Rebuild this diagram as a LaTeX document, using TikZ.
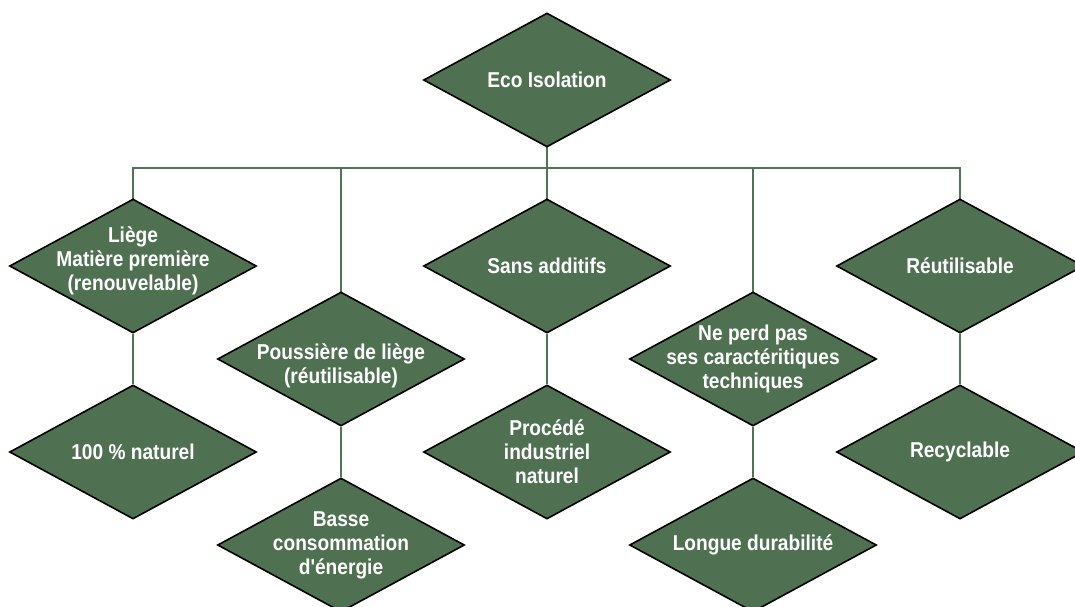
\documentclass[tikz,border=0pt]{standalone}
\usepackage{fontspec}
\setmainfont[FakeStretch=0.89,Ligatures=TeXOff]{Liberation Sans}
\usetikzlibrary{shapes.geometric}
\definecolor{leaf}{HTML}{4F7152}
\definecolor{stem}{HTML}{507555}
\begin{document}
\begin{tikzpicture}[x=1pt,y=-1pt,
  dia/.style={diamond,draw=black,line width=1.6pt,fill=leaf,
    minimum width=247pt,minimum height=134pt,inner sep=0pt},
  txt/.style={text=white,font=\fontsize{21.5}{24}\selectfont\bfseries,
    align=center,inner sep=0pt},
  conn/.style={draw=stem,line width=2pt}]
\useasboundingbox (0,0) rectangle (1075,606);
\clip (0,0) rectangle (1075,606);

% bus line that links the root to the five branches
\coordinate (bus) at (547,168);

% connectors (drawn first so that the diamonds sit on top)
\coordinate (rootS) at (547,147);
\coordinate (c1) at (133,199);
\coordinate (c2) at (341,292);
\coordinate (c3) at (547,199);
\coordinate (c4) at (753,292);
\coordinate (c5) at (960,199);
\draw[conn] (rootS) -- (c3);
\draw[conn] (c1) |- (bus) -| (c5);
\draw[conn] (c2) -- (c2 |- bus);
\draw[conn] (c4) -- (c4 |- bus);

% diamonds
\node[dia] (root)  at (547,80)  {};
\node[dia] (liege) at (133,266) {};
\node[dia] (pous)  at (341,359) {};
\node[dia] (sans)  at (547,266) {};
\node[dia] (perd)  at (753,359) {};
\node[dia] (reut)  at (960,266) {};
\node[dia] (nat)   at (133,452) {};
\node[dia] (basse) at (341,545) {};
\node[dia] (proc)  at (547,452) {};
\node[dia] (dur)   at (753,545) {};
\node[dia] (recy)  at (960,452) {};

% links inside each column
\draw[conn] (liege.south) -- (nat.north);
\draw[conn] (pous.south) -- (basse.north);
\draw[conn] (sans.south) -- (proc.north);
\draw[conn] (perd.south) -- (dur.north);
\draw[conn] (reut.south) -- (recy.north);

% labels
\node[txt] (rootT)  at (root)  {Eco Isolation};
\node[txt] (liegeT) at ([yshift=5pt]liege.center) {Liège\\Matière première\\(renouvelable)};
\node[txt] (pousT)  at ([yshift=-7pt]pous.center) {Poussière de liège\\(réutilisable)};
\node[txt] (sansT)  at (sans)  {Sans additifs};
\node[txt] (perdT)  at (perd)  {Ne perd pas\\ses caractéritiques\\techniques};
\node[txt] (reutT)  at (reut)  {Réutilisable};
\node[txt] (natT)   at (nat)   {100 \% naturel};
\node[txt] (basseT) at (basse) {Basse\\consommation\\d'énergie};
\node[txt] (procT)  at (proc)  {Procédé\\industriel\\naturel};
\node[txt] (durT)   at (dur)   {Longue durabilité};
\node[txt] (recyT)  at (recy)  {Recyclable};
\end{tikzpicture}
\end{document}
